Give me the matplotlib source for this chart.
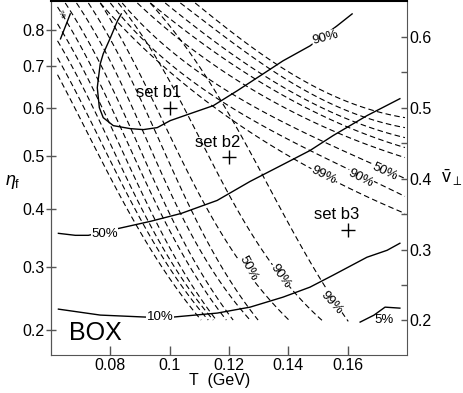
import numpy as np
import matplotlib.pyplot as plt

plt.rcParams['font.family'] = ['Liberation Sans', 'DejaVu Sans']
plt.rcParams['mathtext.fontset'] = 'custom'
plt.rcParams['mathtext.rm'] = 'Liberation Sans'
plt.rcParams['mathtext.it'] = 'Liberation Sans:italic'

# solid contours: T (GeV) vs mean transverse velocity
c90_T = [0.0837, 0.0824, 0.0800, 0.0776, 0.0766, 0.0760, 0.0756, 0.0763, 0.0776, 0.0810,
         0.0867, 0.0911, 0.0958, 0.1002, 0.1069, 0.1147, 0.1228, 0.1305, 0.1382, 0.1473,
         0.1564, 0.1615]
c90_v = [0.6324, 0.6225, 0.5986, 0.5761, 0.5620, 0.5423, 0.5283, 0.5001, 0.4861, 0.4748,
         0.4706, 0.4692, 0.4720, 0.4819, 0.4917, 0.5030, 0.5241, 0.5451, 0.5662, 0.5873,
         0.6155, 0.6324]
c50_T = [0.0625, 0.0682, 0.0726, 0.0830, 0.0935, 0.1039, 0.1160, 0.1271, 0.1382, 0.1473,
         0.1551, 0.1665, 0.1776]
c50_v = [0.3229, 0.3201, 0.3201, 0.3300, 0.3398, 0.3510, 0.3693, 0.3961, 0.4200, 0.4397,
         0.4608, 0.4889, 0.5128]
c10_T = [0.0625, 0.0766, 0.0918, 0.1012, 0.1160, 0.1271, 0.1382, 0.1473, 0.1551, 0.1665,
         0.1733, 0.1776]
c10_v = [0.2160, 0.2076, 0.2048, 0.2048, 0.2104, 0.2188, 0.2329, 0.2470, 0.2639, 0.2892,
         0.2990, 0.3089]
c5_T = [0.1642, 0.1689, 0.1726, 0.1776]
c5_v = [0.1977, 0.2076, 0.2188, 0.2174]
c99_T = [0.0665, 0.0632]
c99_v = [0.6324, 0.5972]

# dashed contours, steep family (unlabelled ones)
stp_T = [[0.0622, 0.0702, 0.0938, 0.1106], [0.0622, 0.0733, 0.0962, 0.1130],
         [0.0622, 0.0763, 0.0982, 0.1147], [0.0622, 0.0793, 0.1005, 0.1157],
         [0.0622, 0.0824, 0.1036, 0.1191], [0.0648, 0.0857, 0.1063, 0.1214],
         [0.0686, 0.0894, 0.1103, 0.1271], [0.0726, 0.0935, 0.1143, 0.1298]]
stp_v = [[0.5466, 0.4819, 0.2990, 0.2006], [0.5705, 0.4819, 0.2990, 0.2006],
         [0.5944, 0.4819, 0.2990, 0.2006], [0.6183, 0.4819, 0.2990, 0.2006],
         [0.6422, 0.4819, 0.2990, 0.2006], [0.6478, 0.4819, 0.2990, 0.2006],
         [0.6478, 0.4819, 0.2990, 0.2006], [0.6478, 0.4819, 0.2990, 0.2006]]
# steep family, 50% / 90% / 99% lines
lbl_T = [[0.0766, 0.0978, 0.1147, 0.1194, 0.1265, 0.1399],
         [0.0827, 0.1069, 0.1214, 0.1372, 0.1514],
         [0.0935, 0.1187, 0.1322, 0.1423, 0.1547, 0.1608]]
lbl_v = [[0.6478, 0.4819, 0.3412, 0.3032, 0.2737, 0.2006],
         [0.6478, 0.4819, 0.3693, 0.2624, 0.2006],
         [0.6478, 0.4959, 0.4045, 0.3201, 0.2245, 0.2006]]
# dashed contours, shallow family
shl_T = [[0.1086, 0.1204, 0.1440, 0.1793], [0.1036, 0.1204, 0.1440, 0.1793],
         [0.0985, 0.1204, 0.1440, 0.1793], [0.0935, 0.1204, 0.1440, 0.1793],
         [0.0891, 0.1204, 0.1440, 0.1793], [0.0840, 0.1204, 0.1440, 0.1793],
         [0.0800, 0.1204, 0.1440, 0.1793], [0.0766, 0.1204, 0.1440, 0.1793]]
shl_v = [[0.6478, 0.6084, 0.5409, 0.4861], [0.6478, 0.5944, 0.5283, 0.4720],
         [0.6478, 0.5775, 0.5156, 0.4579], [0.6478, 0.5634, 0.5044, 0.4439],
         [0.6478, 0.5451, 0.4889, 0.4298], [0.6478, 0.5212, 0.4678, 0.4003],
         [0.6478, 0.5015, 0.4467, 0.3750], [0.6478, 0.4847, 0.4228, 0.3510]]

set_T = [0.10, 0.12, 0.16]
set_v = [0.50, 0.43, 0.328]
set_names = ['set b1', 'set b2', 'set b3']

eta_ticks = [0.2, 0.3, 0.4, 0.5, 0.6, 0.7, 0.8]


def eta_to_v(e):
    return 0.864 * np.tanh(1.1 * np.asarray(e, dtype=float))


def v_to_eta(v):
    return np.arctanh(np.clip(np.asarray(v, dtype=float) / 0.864, -0.999, 0.999)) / 1.1


def smooth(T, v):
    # gentle curve through the read-off points
    T = np.asarray(T)
    v = np.asarray(v)
    s = np.r_[0, np.cumsum(np.hypot(np.diff(T) / 0.12, np.diff(v) / 0.5))]
    u = np.linspace(0, s[-1], 80)
    deg = min(len(T) - 1, 3)
    return np.polyval(np.polyfit(s, T, deg), u), np.polyval(np.polyfit(s, v, deg), u)


fig = plt.figure(figsize=(4.63, 3.93), dpi=100)
ax = fig.add_axes([51 / 463, 38 / 393, 356 / 463, 354 / 393])

for T, v in zip(stp_T + lbl_T + shl_T, stp_v + lbl_v + shl_v):
    ax.plot(*smooth(T, v), color='k', lw=0.8, ls=(0, (5, 3)))

for T, v in [(c90_T, c90_v), (c50_T, c50_v), (c10_T, c10_v), (c5_T, c5_v), (c99_T, c99_v)]:
    ax.plot(T, v, color='k', lw=1.0)

lab = dict(fontsize=9.5, ha='center', va='center',
           bbox=dict(facecolor='white', edgecolor='none', pad=0.3))
ax.text(0.1524, 0.5986, '90%', rotation=15, **lab)
ax.text(0.0781, 0.3215, '50%', **lab)
ax.text(0.0967, 0.2048, '10%', **lab)
ax.text(0.1722, 0.2006, '5%', fontsize=9.5, ha='center', va='center')
ax.text(0.1265, 0.2737, '50%', rotation=-62, **lab)
ax.text(0.1372, 0.2624, '90%', rotation=-55, **lab)
ax.text(0.1547, 0.2245, '99%', rotation=-48, **lab)
ax.text(0.1518, 0.4045, '99%', rotation=-27, **lab)
ax.text(0.1642, 0.4003, '90%', rotation=-27, **lab)
ax.text(0.1726, 0.4101, '50%', rotation=-25, **lab)
ax.text(0.0632, 0.6310, '%', fontsize=6, rotation=-60, ha='center', va='center')

ax.plot(set_T, set_v, ls='none', marker='+', ms=10, mew=1.0, color='k')
for T, v, name in zip(set_T, set_v, set_names):
    ax.text(T - 0.0038, v + 0.0212, name, fontsize=12, ha='center', va='center')

ax.text(0.0749, 0.1823, 'BOX', fontsize=18, ha='center', va='center')

ax.set_xlim(0.06, 0.18)
ax.set_ylim(0.1513, 0.6506)
ax.set_xticks([0.08, 0.10, 0.12, 0.14, 0.16])
ax.set_xticklabels(['0.08', '0.1', '0.12', '0.14', '0.16'])
ax.tick_params(axis='x', direction='in', length=6.5, width=1, color='#555555',
               labelsize=11.5, pad=2)
ax.yaxis.tick_right()
ax.set_yticks([0.2, 0.3, 0.4, 0.5, 0.6])
ax.set_yticklabels(['0.2', '0.3', '0.4', '0.5', '0.6'])
ax.set_yticks([0.25, 0.35, 0.45, 0.55], minor=True)
ax.tick_params(axis='y', which='both', direction='in', length=4.5, width=1,
               color='#555555', labelsize=11.5, pad=1.5)

sec = ax.secondary_yaxis('left', functions=(v_to_eta, eta_to_v))
sec.set_yticks(eta_ticks)
sec.set_yticklabels([str(t) for t in eta_ticks])
sec.tick_params(direction='inout', length=7, width=1, color='#555555', labelsize=11.5, pad=1)
sec.spines['left'].set_color('#555555')

for s in ['left', 'bottom', 'right']:
    ax.spines[s].set_color('#555555')
ax.spines['top'].set_linewidth(1.5)

fig.text(220 / 463, 1 - 381 / 393, 'T  (GeV)', fontsize=11.5, ha='center', va='center')
fig.text(13 / 463, 1 - 182 / 393, r'$\eta_{\rm f}$', fontsize=13, ha='center', va='center')
fig.text(452 / 463, 1 - 178 / 393, r'$\bar{\rm v}_{\perp}$', fontsize=13, ha='center', va='center')

fig.savefig('out.png', dpi=100)
